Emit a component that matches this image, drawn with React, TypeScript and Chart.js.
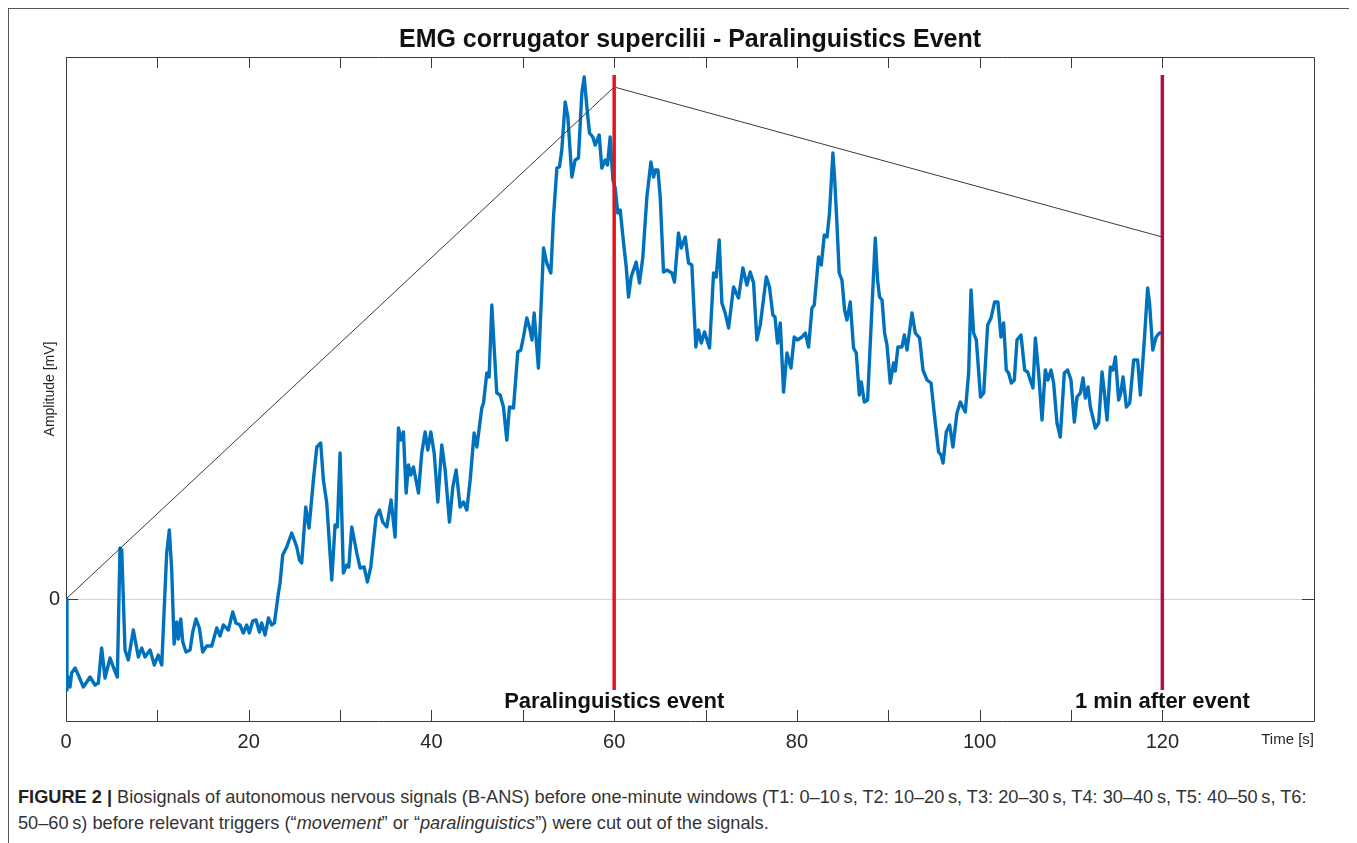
import React, { useEffect, useRef } from "react";
import { Chart, registerables } from "chart.js";

Chart.register(...registerables);

// ---- data (seconds, mV) ----
const times = [
  0, 0.1, 0.25, 0.44, 0.62, 0.99, 1.35, 1.9, 2.63, 3.18, 3.54, 3.9, 4.27, 4.82, 5.18, 5.62, 5.91, 6.1, 6.46, 6.82,
  7.37, 7.92, 8.29, 8.65, 9.2, 9.67, 10.1, 10.48, 11.02, 11.31, 11.57, 11.83, 12.12, 12.3, 12.56, 12.78, 13.14, 13.58,
  13.87, 14.23, 14.6, 14.96, 15.4, 15.95, 16.5, 16.86, 17.22, 17.77, 18.25, 18.6, 19.05, 19.41, 19.78, 20.07, 20.44,
  20.8, 21.17, 21.42, 21.79, 22.16, 22.52, 22.81, 23.25, 23.43, 23.72, 24.16, 24.71, 25.26, 25.55, 25.8, 26.24, 26.6,
  27.08, 27.45, 27.88, 28.17, 28.54, 29.09, 29.45, 29.7, 30.0, 30.36, 30.73, 30.95, 31.28, 31.83, 32.19, 32.63, 32.99,
  33.36, 33.94, 34.31, 34.67, 35.11, 35.58, 36.02, 36.39, 36.68, 36.93, 37.23, 37.48, 37.74, 38.03, 38.58, 38.94,
  39.31, 39.6, 39.93, 40.3, 40.7, 41.13, 41.5, 41.97, 42.34, 42.7, 43.14, 43.5, 43.87, 44.24, 44.67, 44.97, 45.51,
  45.7, 46.06, 46.31, 46.61, 46.86, 47.15, 47.52, 47.88, 48.25, 48.54, 48.98, 49.45, 49.78, 50.07, 50.44, 50.8, 51.0,
  51.24, 51.71, 52.27, 52.63, 53.07, 53.36, 53.73, 54.01, 54.27, 54.64, 54.93, 55.37, 55.73, 56.09, 56.46, 56.72,
  57.01, 57.3, 57.66, 57.92, 58.36, 58.65, 59.02, 59.27, 59.56, 59.86, 60.11, 60.4, 60.66, 61.03, 61.32, 61.57, 61.86,
  62.41, 62.77, 63.14, 63.58, 64.02, 64.31, 64.5, 64.79, 65.04, 65.4, 65.77, 66.32, 66.6, 67.04, 67.34, 67.78, 68.14,
  68.5, 68.94, 69.23, 69.53, 69.89, 70.44, 70.88, 71.17, 71.5, 71.79, 72.15, 72.52, 73.07, 73.61, 74.09, 74.53, 74.89,
  75.26, 75.62, 75.99, 76.65, 77.0, 77.37, 77.6, 77.88, 78.18, 78.54, 78.91, 79.35, 79.71, 80.07, 80.55, 80.92, 81.28,
  81.65, 81.9, 82.37, 82.67, 83.0, 83.3, 83.57, 83.94, 84.12, 84.38, 84.63, 84.93, 85.22, 85.48, 85.84, 86.2, 86.5,
  86.83, 87.05, 87.38, 87.74, 88.1, 88.58, 88.83, 89.05, 89.32, 89.6, 89.86, 90.22, 90.58, 90.77, 91.06, 91.5, 91.76,
  92.05, 92.6, 92.96, 93.43, 93.8, 94.24, 94.68, 95.15, 95.51, 95.78, 96.0, 96.35, 96.72, 97.08, 97.52, 97.89, 98.43,
  98.8, 99.06, 99.34, 99.64, 100.1, 100.45, 100.88, 101.25, 101.64, 102.0, 102.34, 102.63, 102.92, 103.17, 103.47,
  103.8, 104.09, 104.53, 104.93, 105.26, 105.55, 105.84, 106.1, 106.46, 106.83, 107.19, 107.48, 107.82, 108.1, 108.47,
  108.83, 109.27, 109.63, 110.0, 110.37, 110.66, 111.03, 111.32, 111.57, 111.87, 112.12, 112.67, 113.03, 113.4,
  113.66, 113.95, 114.31, 114.6, 114.86, 115.22, 115.45, 115.7, 116.07, 116.43, 116.86, 117.3, 117.6, 118.03, 118.39,
  118.6, 118.95, 119.32, 119.68, 119.87,
];

const amplitudes = [
  0, -0.91, -0.78, -0.88, -0.74, -0.69, -0.76, -0.88, -0.78, -0.86, -0.84, -0.49, -0.79, -0.59, -0.68, -0.78, 0.51,
  0.49, -0.51, -0.61, -0.31, -0.58, -0.49, -0.58, -0.51, -0.66, -0.56, -0.66, 0.46, 0.69, 0.29, -0.45, -0.23, -0.4,
  -0.2, -0.43, -0.53, -0.51, -0.33, -0.2, -0.29, -0.53, -0.47, -0.47, -0.29, -0.37, -0.26, -0.31, -0.13, -0.24, -0.26,
  -0.34, -0.26, -0.34, -0.22, -0.21, -0.33, -0.24, -0.36, -0.19, -0.26, -0.24, 0.06, 0.16, 0.44, 0.52, 0.66, 0.52,
  0.39, 0.36, 0.92, 0.71, 1.19, 1.52, 1.56, 1.19, 0.96, 0.19, 0.74, 0.72, 1.46, 0.26, 0.34, 0.32, 0.72, 0.46, 0.31,
  0.32, 0.17, 0.32, 0.82, 0.89, 0.77, 0.72, 0.99, 0.62, 1.71, 1.59, 1.67, 1.06, 1.34, 1.24, 1.32, 1.06, 1.46, 1.67,
  1.49, 1.67, 1.46, 0.97, 1.54, 1.29, 0.77, 1.12, 1.29, 0.92, 0.97, 0.89, 1.19, 1.66, 1.52, 1.91, 1.96, 2.26, 2.22,
  2.94, 2.52, 2.06, 2.04, 1.92, 1.59, 1.92, 1.91, 2.47, 2.49, 2.62, 2.81, 2.69, 2.59, 2.86, 2.31, 3.51, 3.36, 3.26,
  3.82, 4.31, 4.32, 4.49, 4.97, 4.82, 4.22, 4.39, 4.41, 5.06, 5.22, 4.92, 4.66, 4.62, 4.54, 4.64, 4.31, 4.39, 4.34,
  4.62, 4.19, 4.11, 3.86, 3.89, 3.56, 3.32, 3.02, 3.22, 3.37, 3.16, 3.42, 4.02, 4.37, 4.22, 4.29, 4.29, 4.02, 3.27,
  3.29, 3.26, 3.17, 3.66, 3.51, 3.62, 3.36, 3.34, 2.52, 2.69, 2.56, 2.67, 2.51, 3.26, 3.22, 3.59, 2.96, 2.86, 2.71,
  3.12, 3.01, 3.31, 3.14, 3.27, 3.16, 2.59, 2.74, 3.22, 3.12, 2.84, 2.82, 2.56, 2.76, 2.07, 2.46, 2.31, 2.62, 2.59,
  2.62, 2.66, 2.52, 2.91, 2.94, 3.42, 3.34, 3.64, 3.62, 3.86, 4.46, 4.22, 3.76, 3.26, 3.19, 2.89, 2.79, 2.97, 2.51,
  2.46, 2.04, 2.17, 1.97, 1.99, 2.69, 3.61, 3.19, 3.02, 2.99, 2.66, 2.54, 2.16, 2.36, 2.28, 2.52, 2.52, 2.64, 2.49,
  2.86, 2.66, 2.61, 2.29, 2.19, 2.16, 1.76, 1.47, 1.44, 1.36, 1.67, 1.74, 1.52, 1.86, 1.97, 1.87, 2.26, 3.09, 2.66,
  2.59, 2.02, 2.06, 2.74, 2.81, 2.97, 2.97, 2.62, 2.76, 2.29, 2.26, 2.16, 2.19, 2.59, 2.64, 2.29, 2.27, 2.19, 2.11,
  2.61, 2.26, 1.79, 2.29, 2.19, 2.29, 2.16, 1.76, 1.62, 2.26, 2.29, 2.19, 1.77, 2.02, 2.06, 2.21, 2.01, 2.12, 1.92,
  1.71, 1.76, 2.27, 2.06, 1.79, 2.32, 2.29, 2.42, 1.99, 2.06, 2.22, 1.92, 1.96, 2.39, 2.39, 2.04, 2.59, 3.11, 2.96,
  2.49, 2.62, 2.66, 2.66,
];

const trendTimes = [0, 60, 120];
const trendValues = [0, 5.12, 3.62];

const eventTimes = [60, 120];
const eventLabels = ["Paralinguistics event", "1 min after event"];
const eventColors = ["#e3141c", "#b0123d"];
const eventLineSpan = [-0.91, 5.24];

const xTickValues = [0, 10, 20, 30, 40, 50, 60, 70, 80, 90, 100, 110, 120];
const xLabelEvery = 20;
const yTickValues = [0];
const xRange = [0, 136.6];
const yRange = [-1.22, 5.42];

const titleText = "EMG corrugator supercilii - Paralinguistics Event";
const xTitle = "Time [s]";
const yTitle = "Amplitude [mV]";

const FONT = '"Liberation Sans", Arial, Helvetica, sans-serif';
const INK = "#262626";

const decorPlugin = {
  id: "decor",
  beforeDatasetsDraw(chart: any) {
    const { ctx, chartArea: ca, scales } = chart;
    const x = scales.x;
    const y = scales.y;
    ctx.save();
    ctx.strokeStyle = "#3c3c3c";
    ctx.lineWidth = 1;
    ctx.beginPath();
    ctx.rect(Math.round(ca.left) + 0.5, Math.round(ca.top) + 0.5, Math.round(ca.right - ca.left), Math.round(ca.bottom - ca.top));
    xTickValues.forEach((v) => {
      const px = Math.round(x.getPixelForValue(v)) + 0.5;
      ctx.moveTo(px, ca.bottom);
      ctx.lineTo(px, ca.bottom - 11);
      ctx.moveTo(px, ca.top);
      ctx.lineTo(px, ca.top + 11);
    });
    yTickValues.forEach((v) => {
      const py = Math.round(y.getPixelForValue(v)) + 0.5;
      ctx.moveTo(ca.left, py);
      ctx.lineTo(ca.left + 12, py);
      ctx.moveTo(ca.right, py);
      ctx.lineTo(ca.right - 12, py);
    });
    ctx.stroke();
    ctx.restore();
  },
  afterDatasetsDraw(chart: any) {
    const { ctx, chartArea: ca, scales } = chart;
    const x = scales.x;
    ctx.save();
    ctx.fillStyle = "#111";
    ctx.font = `bold 22px ${FONT}`;
    ctx.textAlign = "center";
    ctx.textBaseline = "middle";
    eventTimes.forEach((t, i) => {
      ctx.fillText(eventLabels[i], x.getPixelForValue(t), ca.bottom - 19);
    });
    ctx.restore();
  },
  afterDraw(chart: any) {
    const { ctx, chartArea: ca } = chart;
    ctx.save();
    ctx.fillStyle = "#111";
    ctx.font = `bold 25px ${FONT}`;
    ctx.textAlign = "center";
    ctx.textBaseline = "middle";
    ctx.fillText(titleText, (ca.left + ca.right) / 2, ca.top - 17);
    ctx.restore();
  },
};

function ChartCanvas() {
  const ref = useRef<HTMLCanvasElement | null>(null);
  useEffect(() => {
    if (!ref.current) return;
    const signal = times.map((t, i) => ({ x: t, y: amplitudes[i] }));
    const trend = trendTimes.map((t, i) => ({ x: t, y: trendValues[i] }));
    const eventSets = eventTimes.map((t, i) => ({
      label: eventLabels[i],
      data: [
        { x: t, y: eventLineSpan[0] },
        { x: t, y: eventLineSpan[1] },
      ],
      borderColor: eventColors[i],
      borderWidth: 3.5,
      pointRadius: 0,
      order: 1,
    }));
    const chart = new Chart(ref.current, {
      type: "line",
      data: {
        datasets: [
          {
            label: "EMG",
            data: signal,
            borderColor: "#0072BD",
            borderWidth: 3.4,
            pointRadius: 0,
            tension: 0,
            borderJoinStyle: "round",
            order: 3,
          },
          {
            label: "trend",
            data: trend,
            borderColor: "#3a3a3a",
            borderWidth: 1,
            pointRadius: 0,
            order: 2,
          },
          ...eventSets,
        ],
      } as any,
      options: {
        animation: false,
        responsive: false,
        devicePixelRatio: 1,
        layout: { padding: { left: 0, right: 41, top: 48, bottom: 0 } },
        plugins: {
          legend: { display: false },
          tooltip: { enabled: false },
          title: { display: false },
        },
        scales: {
          x: {
            type: "linear",
            min: xRange[0],
            max: xRange[1],
            afterBuildTicks: (scale: any) => {
              scale.ticks = xTickValues.map((v) => ({ value: v }));
            },
            afterFit: (scale: any) => {
              scale.height = 58;
            },
            grid: { display: false, drawTicks: false },
            border: { display: false },
            ticks: {
              autoSkip: false,
              maxRotation: 0,
              padding: 9,
              color: INK,
              font: { family: FONT, size: 20 },
              callback: (v: any) => (Number(v) % xLabelEvery === 0 ? String(v) : ""),
            },
            title: {
              display: true,
              text: xTitle,
              align: "end",
              color: INK,
              font: { family: FONT, size: 15 },
              padding: { top: 0, bottom: 30 },
            },
          },
          y: {
            type: "linear",
            min: yRange[0],
            max: yRange[1],
            afterBuildTicks: (scale: any) => {
              scale.ticks = yTickValues.map((v) => ({ value: v }));
            },
            afterFit: (scale: any) => {
              scale.width = 57;
            },
            grid: { display: true, drawTicks: false, color: "#d4d4d4", lineWidth: 1 },
            border: { display: false },
            ticks: {
              padding: 6,
              color: INK,
              font: { family: FONT, size: 20 },
              callback: (v: any) => String(v),
            },
            title: {
              display: true,
              text: yTitle,
              color: INK,
              font: { family: FONT, size: 14 },
              padding: { top: 33, bottom: 0 },
            },
          },
        },
      } as any,
      plugins: [decorPlugin],
    });
    return () => chart.destroy();
  }, []);
  return <canvas ref={ref} width={1346} height={770} style={{ position: "absolute", left: 0, top: 0, width: 1346, height: 770 }} />;
}

export default function App() {
  return (
    <div
      style={{
        position: "relative",
        width: 1348,
        height: 835,
        boxSizing: "border-box",
        borderTop: "1px solid #555",
        borderLeft: "1px solid #555",
        borderRight: "1px solid #555",
        background: "#fff",
        overflow: "hidden",
      }}
    >
      <ChartCanvas />
      <div
        style={{
          position: "absolute",
          left: 9,
          top: 775,
          fontFamily: FONT,
          fontSize: 18.2,
          lineHeight: "26px",
          color: "#333",
          whiteSpace: "nowrap",
        }}
      >
        <b style={{ color: "#222" }}>FIGURE 2 |</b> Biosignals of autonomous nervous signals (B-ANS) before one-minute windows (T1: 0–10{"\u2009"}s, T2: 10–20{"\u2009"}s, T3: 20–30{"\u2009"}s, T4: 30–40{"\u2009"}s, T5: 40–50{"\u2009"}s, T6:
        <br />
        50–60{"\u2009"}s) before relevant triggers (“<i>movement</i>” or “<i>paralinguistics</i>”) were cut out of the signals.
      </div>
    </div>
  );
}
